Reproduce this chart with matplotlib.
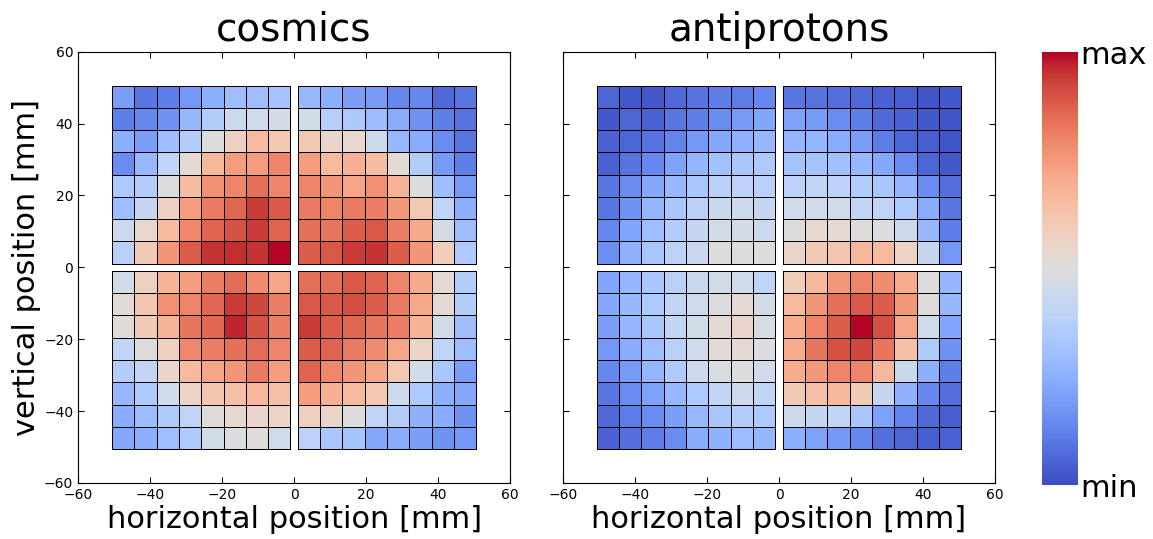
import numpy as np
import matplotlib
matplotlib.use('Agg')
import matplotlib.pyplot as plt

# relative rates (0 = min, 1 = max), rows top -> bottom, columns left -> right
cosmics_tl = [
    [0.20, 0.10, 0.12, 0.18, 0.25, 0.30, 0.30, 0.32],
    [0.12, 0.14, 0.17, 0.28, 0.36, 0.44, 0.45, 0.47],
    [0.25, 0.20, 0.30, 0.36, 0.50, 0.58, 0.66, 0.61],
    [0.15, 0.28, 0.40, 0.53, 0.67, 0.74, 0.74, 0.80],
    [0.34, 0.36, 0.50, 0.65, 0.77, 0.80, 0.84, 0.80],
    [0.30, 0.42, 0.58, 0.74, 0.82, 0.86, 0.94, 0.89],
    [0.44, 0.54, 0.66, 0.79, 0.87, 0.90, 0.94, 0.87],
    [0.38, 0.60, 0.76, 0.88, 0.95, 0.96, 0.95, 1.00],
]
cosmics_tr = [
    [0.28, 0.25, 0.20, 0.19, 0.14, 0.14, 0.07, 0.10],
    [0.46, 0.37, 0.34, 0.29, 0.24, 0.17, 0.12, 0.09],
    [0.61, 0.55, 0.54, 0.44, 0.28, 0.24, 0.15, 0.10],
    [0.74, 0.66, 0.69, 0.65, 0.52, 0.36, 0.19, 0.12],
    [0.80, 0.76, 0.72, 0.77, 0.68, 0.50, 0.30, 0.19],
    [0.82, 0.80, 0.82, 0.81, 0.75, 0.61, 0.40, 0.25],
    [0.84, 0.83, 0.88, 0.89, 0.81, 0.71, 0.47, 0.30],
    [0.88, 0.89, 0.94, 0.95, 0.88, 0.76, 0.59, 0.35],
]
cosmics_bl = [
    [0.46, 0.58, 0.68, 0.74, 0.81, 0.85, 0.78, 0.72],
    [0.52, 0.62, 0.77, 0.80, 0.86, 0.94, 0.92, 0.81],
    [0.52, 0.60, 0.68, 0.83, 0.86, 0.97, 0.90, 0.81],
    [0.40, 0.50, 0.58, 0.79, 0.81, 0.84, 0.85, 0.80],
    [0.36, 0.41, 0.55, 0.66, 0.72, 0.76, 0.82, 0.74],
    [0.28, 0.35, 0.45, 0.56, 0.62, 0.64, 0.67, 0.64],
    [0.24, 0.29, 0.35, 0.40, 0.51, 0.54, 0.55, 0.56],
    [0.23, 0.25, 0.30, 0.35, 0.46, 0.49, 0.51, 0.45],
]
cosmics_br = [
    [0.84, 0.84, 0.89, 0.87, 0.80, 0.71, 0.53, 0.36],
    [0.89, 0.89, 0.91, 0.88, 0.82, 0.71, 0.53, 0.36],
    [0.94, 0.88, 0.86, 0.83, 0.81, 0.68, 0.46, 0.30],
    [0.88, 0.87, 0.82, 0.78, 0.72, 0.56, 0.40, 0.30],
    [0.87, 0.79, 0.76, 0.72, 0.61, 0.46, 0.33, 0.20],
    [0.74, 0.69, 0.66, 0.61, 0.44, 0.35, 0.25, 0.23],
    [0.58, 0.55, 0.50, 0.40, 0.36, 0.26, 0.24, 0.17],
    [0.39, 0.33, 0.32, 0.23, 0.24, 0.20, 0.17, 0.18],
]

pbar_tl = [
    [0.06, 0.03, 0.03, 0.07, 0.09, 0.12, 0.11, 0.14],
    [0.03, 0.06, 0.05, 0.10, 0.12, 0.15, 0.19, 0.22],
    [0.05, 0.06, 0.09, 0.13, 0.18, 0.23, 0.26, 0.28],
    [0.05, 0.09, 0.14, 0.21, 0.27, 0.31, 0.33, 0.34],
    [0.10, 0.15, 0.23, 0.28, 0.33, 0.38, 0.39, 0.38],
    [0.10, 0.17, 0.27, 0.33, 0.38, 0.43, 0.44, 0.42],
    [0.14, 0.22, 0.30, 0.36, 0.42, 0.46, 0.46, 0.44],
    [0.16, 0.26, 0.33, 0.39, 0.43, 0.50, 0.50, 0.50],
]
pbar_tr = [
    [0.10, 0.09, 0.08, 0.07, 0.05, 0.04, 0.02, 0.03],
    [0.21, 0.19, 0.15, 0.12, 0.07, 0.05, 0.03, 0.02],
    [0.27, 0.27, 0.24, 0.20, 0.11, 0.06, 0.04, 0.02],
    [0.32, 0.32, 0.31, 0.28, 0.23, 0.15, 0.06, 0.03],
    [0.39, 0.40, 0.39, 0.36, 0.33, 0.27, 0.15, 0.08],
    [0.45, 0.46, 0.45, 0.41, 0.40, 0.35, 0.24, 0.10],
    [0.50, 0.54, 0.53, 0.50, 0.49, 0.44, 0.28, 0.12],
    [0.55, 0.60, 0.62, 0.67, 0.66, 0.56, 0.42, 0.18],
]
pbar_bl = [
    [0.22, 0.27, 0.33, 0.38, 0.43, 0.46, 0.45, 0.40],
    [0.23, 0.28, 0.34, 0.41, 0.45, 0.49, 0.53, 0.46],
    [0.20, 0.27, 0.33, 0.41, 0.46, 0.53, 0.55, 0.48],
    [0.18, 0.24, 0.30, 0.38, 0.45, 0.52, 0.53, 0.49],
    [0.14, 0.19, 0.27, 0.35, 0.44, 0.48, 0.50, 0.45],
    [0.10, 0.15, 0.21, 0.28, 0.35, 0.41, 0.44, 0.41],
    [0.07, 0.11, 0.15, 0.20, 0.28, 0.33, 0.36, 0.34],
    [0.05, 0.08, 0.11, 0.15, 0.24, 0.26, 0.29, 0.27],
]
pbar_br = [
    [0.59, 0.67, 0.75, 0.80, 0.78, 0.70, 0.50, 0.27],
    [0.66, 0.76, 0.84, 0.89, 0.88, 0.75, 0.51, 0.28],
    [0.70, 0.80, 0.88, 1.00, 0.91, 0.72, 0.45, 0.22],
    [0.70, 0.83, 0.90, 0.92, 0.83, 0.64, 0.35, 0.17],
    [0.70, 0.75, 0.80, 0.80, 0.67, 0.43, 0.25, 0.12],
    [0.60, 0.64, 0.67, 0.60, 0.42, 0.26, 0.14, 0.08],
    [0.44, 0.42, 0.41, 0.33, 0.21, 0.13, 0.07, 0.04],
    [0.25, 0.21, 0.18, 0.14, 0.08, 0.06, 0.04, 0.05],
]

panel_titles = ['cosmics', 'antiprotons']
ticks = [-60, -40, -20, 0, 20, 40, 60]

# detector quadrant geometry: 8x8 cells, ~1 mm gap from the centre
edges_pos = np.linspace(1, 50.6, 9)
edges_neg = -edges_pos[::-1]

cmap = plt.get_cmap('coolwarm')

fig = plt.figure(figsize=(11.53, 5.39), dpi=100)
ax1 = fig.add_axes([0.0677, 0.104, 0.3747, 0.80])
ax2 = fig.add_axes([0.4883, 0.104, 0.3747, 0.80])
cax = fig.add_axes([0.9037, 0.100, 0.0312, 0.803])


def draw_panel(ax, tl, tr, bl, br):
    quads = [
        (edges_neg, edges_pos, tl),
        (edges_pos, edges_pos, tr),
        (edges_neg, edges_neg, bl),
        (edges_pos, edges_neg, br),
    ]
    mesh = None
    for xe, ye, vals in quads:
        z = np.array(vals)[::-1]  # rows were listed top -> bottom
        mesh = ax.pcolormesh(xe, ye, z, cmap=cmap, vmin=0, vmax=1,
                             edgecolors='k', linewidth=0.65)
    ax.set_xlim(-60, 60)
    ax.set_ylim(-60, 60)
    ax.set_xticks(ticks)
    ax.set_yticks(ticks)
    ax.tick_params(direction='in', top=True, right=True, labelsize=10,
                   length=4, width=0.8)
    ax.set_xlabel('horizontal position [mm]', fontsize=22, labelpad=2)
    return mesh


draw_panel(ax1, cosmics_tl, cosmics_tr, cosmics_bl, cosmics_br)
mesh = draw_panel(ax2, pbar_tl, pbar_tr, pbar_bl, pbar_br)
ax1.set_ylabel('vertical position [mm]', fontsize=22, labelpad=2)
ax2.set_yticklabels([])
for ax, t in zip([ax1, ax2], panel_titles):
    ax.set_title(t, fontsize=28, pad=8)

cb = fig.colorbar(mesh, cax=cax, ticks=[0, 1])
cb.ax.set_yticklabels(['min', 'max'])
cb.ax.tick_params(labelsize=22, length=0, pad=2)
cb.outline.set_visible(False)

fig.savefig('out.png', dpi=100)
